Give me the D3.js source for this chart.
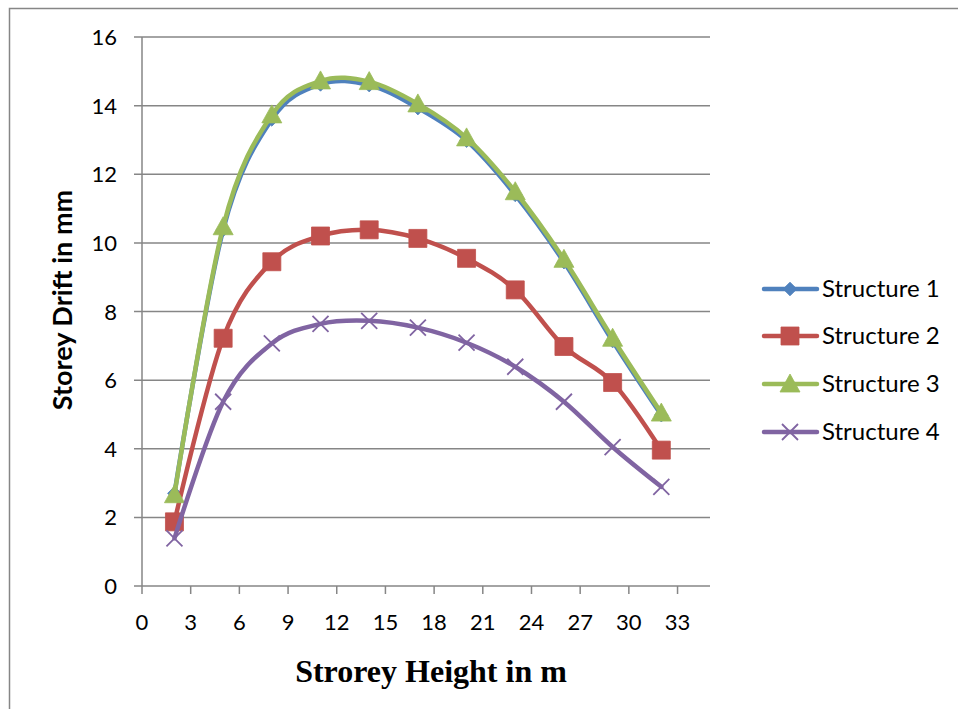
<!DOCTYPE html>
<html>
<head>
<meta charset="utf-8">
<script src="https://cdnjs.cloudflare.com/ajax/libs/d3/7.8.5/d3.min.js"></script>
<style>
    body { margin: 0; background: #fff; }
    svg { display: block; }
</style>
</head>
<body>
<div id="chart"></div>
<script>
(function () {
    'use strict';

    // storey heights (m)
    var heights = [2, 5, 8, 11, 14, 17, 20, 23, 26, 29, 32];
    var seriesNames = ['Structure 1', 'Structure 2', 'Structure 3', 'Structure 4'];
    var structure1 = [2.7, 10.38, 13.6, 14.62, 14.6, 13.93, 12.98, 11.4, 9.44, 7.14, 4.98];
    var structure2 = [1.87, 7.22, 9.45, 10.2, 10.38, 10.13, 9.55, 8.63, 6.98, 5.93, 3.96];
    var structure3 = [2.66, 10.47, 13.73, 14.72, 14.7, 14.05, 13.06, 11.49, 9.52, 7.22, 5.04];
    var structure4 = [1.39, 5.37, 7.07, 7.64, 7.73, 7.53, 7.09, 6.39, 5.37, 4.05, 2.89];
    var xTicks = [0, 3, 6, 9, 12, 15, 18, 21, 24, 27, 30, 33];
    var yTicks = [0, 2, 4, 6, 8, 10, 12, 14, 16];

    var colors = ['#4F81BD', '#C0504D', '#9BBB59', '#8064A2'];
    var markers = ['diamond', 'square', 'triangle', 'cross'];
    var values = [structure1, structure2, structure3, structure4];

    var W = 958, H = 709;
    var left = 142, right = 710, top = 37, bottom = 586;
    var gridColor = '#868686';
    var sans = 'Lato, "Open Sans", sans-serif';

    var svg = d3.select('#chart').append('svg')
        .attr('width', W)
        .attr('height', H);

    // outer frame, runs off right and bottom edges
    svg.append('rect')
        .attr('x', 9.5)
        .attr('y', 8.5)
        .attr('width', W + 20)
        .attr('height', H + 20)
        .attr('fill', 'none')
        .attr('stroke', gridColor)
        .attr('stroke-width', 1.5);

    var x = d3.scaleLinear().domain([0, 35]).range([left, right]);
    var y = d3.scaleLinear().domain([0, 16]).range([bottom, top]);

    // horizontal gridlines + y ticks
    svg.append('g')
        .selectAll('line')
        .data(yTicks)
        .enter().append('line')
        .attr('x1', left - 8)
        .attr('x2', right)
        .attr('y1', function (d) { return y(d); })
        .attr('y2', function (d) { return y(d); })
        .attr('stroke', gridColor)
        .attr('stroke-width', 1.5);

    svg.append('g')
        .selectAll('text')
        .data(yTicks)
        .enter().append('text')
        .attr('x', left - 25)
        .attr('y', function (d) { return y(d) + 8; })
        .attr('text-anchor', 'end')
        .style('font-family', sans)
        .style('font-size', '22px')
        .attr('fill', '#000')
        .text(function (d) { return d; });

    // y axis line
    svg.append('line')
        .attr('x1', left).attr('x2', left)
        .attr('y1', top).attr('y2', bottom)
        .attr('stroke', gridColor)
        .attr('stroke-width', 1.5);

    // x ticks
    var xAxis = svg.append('g');
    xAxis.selectAll('line')
        .data(xTicks)
        .enter().append('line')
        .attr('x1', function (d) { return x(d); })
        .attr('x2', function (d) { return x(d); })
        .attr('y1', bottom)
        .attr('y2', bottom + 8)
        .attr('stroke', gridColor)
        .attr('stroke-width', 1.5);

    xAxis.selectAll('text')
        .data(xTicks)
        .enter().append('text')
        .attr('x', function (d) { return x(d); })
        .attr('y', bottom + 44)
        .attr('text-anchor', 'middle')
        .style('font-family', sans)
        .style('font-size', '22px')
        .attr('fill', '#000')
        .text(function (d) { return d; });

    // axis titles
    svg.append('text')
        .attr('transform', 'translate(72,300) rotate(-90)')
        .attr('text-anchor', 'middle')
        .style('font-family', sans)
        .style('font-size', '27px')
        .style('font-weight', 'bold')
        .text('Storey Drift in mm');

    svg.append('text')
        .attr('x', 431)
        .attr('y', 682)
        .attr('text-anchor', 'middle')
        .style('font-family', '"Liberation Serif", "Times New Roman", serif')
        .style('font-size', '32px')
        .style('font-weight', 'bold')
        .text('Strorey Height in m');

    function markerPath(type) {
        switch (type) {
            case 'diamond':
                return d3.symbol().type(d3.symbolDiamond2).size(120)();
            case 'square':
                return 'M-9,-9L9,-9L9,9L-9,9Z';
            case 'triangle':
                return 'M0,-10L10,8L-10,8Z';
            case 'cross':
                return 'M-8,-8L8,8M-8,8L8,-8';
        }
    }

    function drawMarker(g, type, color) {
        g.append('path')
            .attr('d', markerPath(type))
            .attr('fill', type === 'cross' ? 'none' : color)
            .attr('stroke', color)
            .attr('stroke-width', type === 'cross' ? 1.8 : 0.8);
    }

    var line = d3.line()
        .x(function (d) { return x(d[0]); })
        .y(function (d) { return y(d[1]); })
        .curve(d3.curveCardinal.tension(0));

    var plot = svg.append('g').attr('class', 'plot');

    values.forEach(function (vals, i) {
        var pts = heights.map(function (h, j) { return [h, vals[j]]; });
        var s = plot.append('g').attr('class', 'series');
        s.append('path')
            .attr('d', line(pts))
            .attr('fill', 'none')
            .attr('stroke', colors[i])
            .attr('stroke-width', 4.5)
            .attr('stroke-linejoin', 'round')
            .attr('stroke-linecap', 'round');
        pts.forEach(function (p) {
            var m = s.append('g')
                .attr('transform', 'translate(' + x(p[0]) + ',' + y(p[1]) + ')');
            drawMarker(m, markers[i], colors[i]);
        });
    });

    // legend
    var legendY = [289, 336, 384, 432];
    var legend = svg.append('g').attr('class', 'legend');
    seriesNames.forEach(function (name, i) {
        var item = legend.append('g')
            .attr('transform', 'translate(0,' + legendY[i] + ')');
        item.append('line')
            .attr('x1', 764).attr('x2', 817)
            .attr('y1', 0).attr('y2', 0)
            .attr('stroke', colors[i])
            .attr('stroke-width', 4.5)
            .attr('stroke-linecap', 'round');
        var m = item.append('g').attr('transform', 'translate(790,0)');
        drawMarker(m, markers[i], colors[i]);
        item.append('text')
            .attr('x', 822)
            .attr('y', 8)
            .style('font-family', sans)
            .style('font-size', '24px')
            .text(name);
    });
})();
</script>
</body>
</html>
